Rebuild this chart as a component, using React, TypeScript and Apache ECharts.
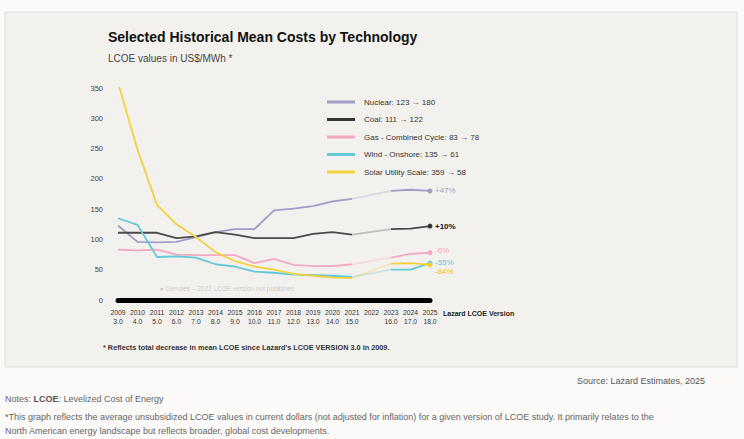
import React, { useEffect, useRef } from "react";
import * as echarts from "echarts";

const years = ["2009","2010","2011","2012","2013","2014","2015","2016","2017","2018","2019","2020","2021","2022","2023","2024","2025"];
const versions = ["3.0","4.0","5.0","6.0","7.0","8.0","9.0","10.0","11.0","12.0","13.0","14.0","15.0","","16.0","17.0","18.0"];

const nuclear = [123, 96, 95, 96, 104, 112, 117, 117, 148, 151, 155, 163, 167, null, 180, 182, 180];
const coal = [111, 111, 111, 102, 105, 112, 108, 102, 102, 102, 109, 112, 108, null, 117, 118, 122];
const gas = [83, 82, 83, 75, 74, 74, 74, 61, 68, 58, 56, 56, 59, null, 70, 76, 78];
const wind = [135, 124, 71, 72, 70, 59, 55, 47, 45, 42, 41, 40, 38, null, 50, 50, 61];
const solar = [359, 248, 157, 125, 104, 79, 64, 55, 50, 43, 40, 37, 36, null, 60, 61, 58];

const seriesNames = [
  "Nuclear: 123 \u2192 180",
  "Coal: 111 \u2192 122",
  "Gas - Combined Cycle: 83 \u2192 78",
  "Wind - Onshore: 135 \u2192 61",
  "Solar Utility Scale: 359 \u2192 58",
];
const changeLabels = ["+47%", "+10%", "-6%", "-55%", "-84%"];
const seriesData = [nuclear, coal, gas, wind, solar];
const colors = ["#a39cc6", "#4a4a4a", "#f4a9c3", "#62c9d8", "#f4d23c"];
const labelColors = ["#a39cc6", "#111111", "#f4a9c3", "#62c9d8", "#e9c430"];
const labelOffsets = [[0, 0], [0, 0], [0, -2], [0, -1], [0, 7]];

export default function App() {
  const ref = useRef<HTMLDivElement>(null);
  useEffect(() => {
    if (!ref.current) return;
    const chart = echarts.init(ref.current, undefined, { renderer: "svg" });
    const last = years.length - 1;
    const mainSeries = seriesData.map((d, k) => ({
      name: seriesNames[k],
      type: "line",
      data: d,
      connectNulls: false,
      symbol: "circle",
      showAllSymbol: true,
      symbolSize: (_v: any, p: any) => (p.dataIndex === last ? 5 : 0),
      lineStyle: { color: colors[k], width: 1.8 },
      itemStyle: { color: k === 1 ? "#333" : colors[k] },
      z: 3,
      endLabel: {
        show: true,
        formatter: () => changeLabels[k],
        color: labelColors[k],
        fontSize: 8,
        fontWeight: k === 1 ? "bold" : "normal",
        distance: 5,
        offset: labelOffsets[k],
      },
    }));
    const connectors = seriesData.map((d, k) => ({
      name: seriesNames[k] + " (gap)",
      type: "line",
      data: d.map((v, i) => (i >= 12 && i <= 14 ? v : null)),
      connectNulls: true,
      symbol: "none",
      silent: true,
      lineStyle: { color: colors[k], width: 1.8, opacity: 0.3 },
      z: 2,
    }));
    chart.setOption({
      animation: false,
      backgroundColor: "#fbfaf8",
      textStyle: { fontFamily: "Liberation Sans, Arial, sans-serif" },
      graphic: [
        { type: "rect", shape: { x: 5, y: 12, width: 732, height: 355 }, style: { fill: "#f3f1ee", stroke: "#e0deda", lineWidth: 1 }, z: -10 },
        { type: "text", left: 108, top: 30, style: { text: "Selected Historical Mean Costs by Technology", fontSize: 14, fontWeight: "bold", fill: "#111" } },
        { type: "text", left: 108, top: 53, style: { text: "LCOE values in US$/MWh *", fontSize: 10, fill: "#444" } },
        { type: "text", left: 160, top: 285, style: { text: "\u25CF Denotes \u2013 2022 LCOE version not published", fontSize: 6.5, fill: "rgba(150,150,150,0.45)" } },
        { type: "text", left: 443, top: 310, style: { text: "Lazard LCOE Version", fontSize: 7, fontWeight: "bold", fill: "#222" } },
        { type: "text", left: 103, top: 344, style: { text: "* Reflects total decrease in mean LCOE since Lazard's LCOE VERSION 3.0 in 2009.", fontSize: 7.3, fontWeight: "bold", fill: "#333" } },
        { type: "text", right: 39, top: 376, style: { text: "Source: Lazard Estimates, 2025", fontSize: 9, fill: "#555" } },
        { type: "text", left: 5, top: 394, style: { text: "{a|Notes: }{b|LCOE}{a|: Levelized Cost of Energy}", rich: { a: { fontSize: 9, fill: "#666" }, b: { fontSize: 9, fontWeight: "bold", fill: "#555" } } } },
        { type: "text", left: 5, top: 412, style: { text: "*This graph reflects the average unsubsidized LCOE values in current dollars (not adjusted for inflation) for a given version of LCOE study. It primarily relates to the", fontSize: 9, fill: "#666" } },
        { type: "text", left: 5, top: 426, style: { text: "North American energy landscape but reflects broader, global cost developments.", fontSize: 9, fill: "#666" } },
      ],
      legend: {
        orient: "vertical",
        left: 322,
        top: 92,
        icon: "rect",
        itemWidth: 28,
        itemHeight: 3,
        itemGap: 7.5,
        data: seriesNames,
        textStyle: { fontSize: 8, color: "#333", lineHeight: 10, padding: [0, 0, 0, 4] },
      },
      grid: { left: 118, right: 314, top: 88, bottom: 139, containLabel: false },
      xAxis: {
        type: "category",
        data: years,
        boundaryGap: false,
        axisLine: { lineStyle: { color: "#000", width: 5 } },
        axisTick: { show: false },
        axisLabel: {
          interval: 0,
          margin: 8,
          fontSize: 6.8,
          lineHeight: 9,
          color: "#333",
          formatter: (v: string, i: number) => v + "\n" + versions[i],
        },
        splitLine: { show: false },
      },
      yAxis: {
        type: "value",
        min: 0,
        max: 350,
        interval: 50,
        axisLine: { show: false },
        axisTick: { show: false },
        splitLine: { show: false },
        axisLabel: { fontSize: 7.5, color: "#444", margin: 15 },
      },
      series: [...connectors, ...mainSeries],
    });
    return () => chart.dispose();
  }, []);
  return <div ref={ref} style={{ position: "fixed", left: 0, top: 0, width: 744, height: 439 }} />;
}
